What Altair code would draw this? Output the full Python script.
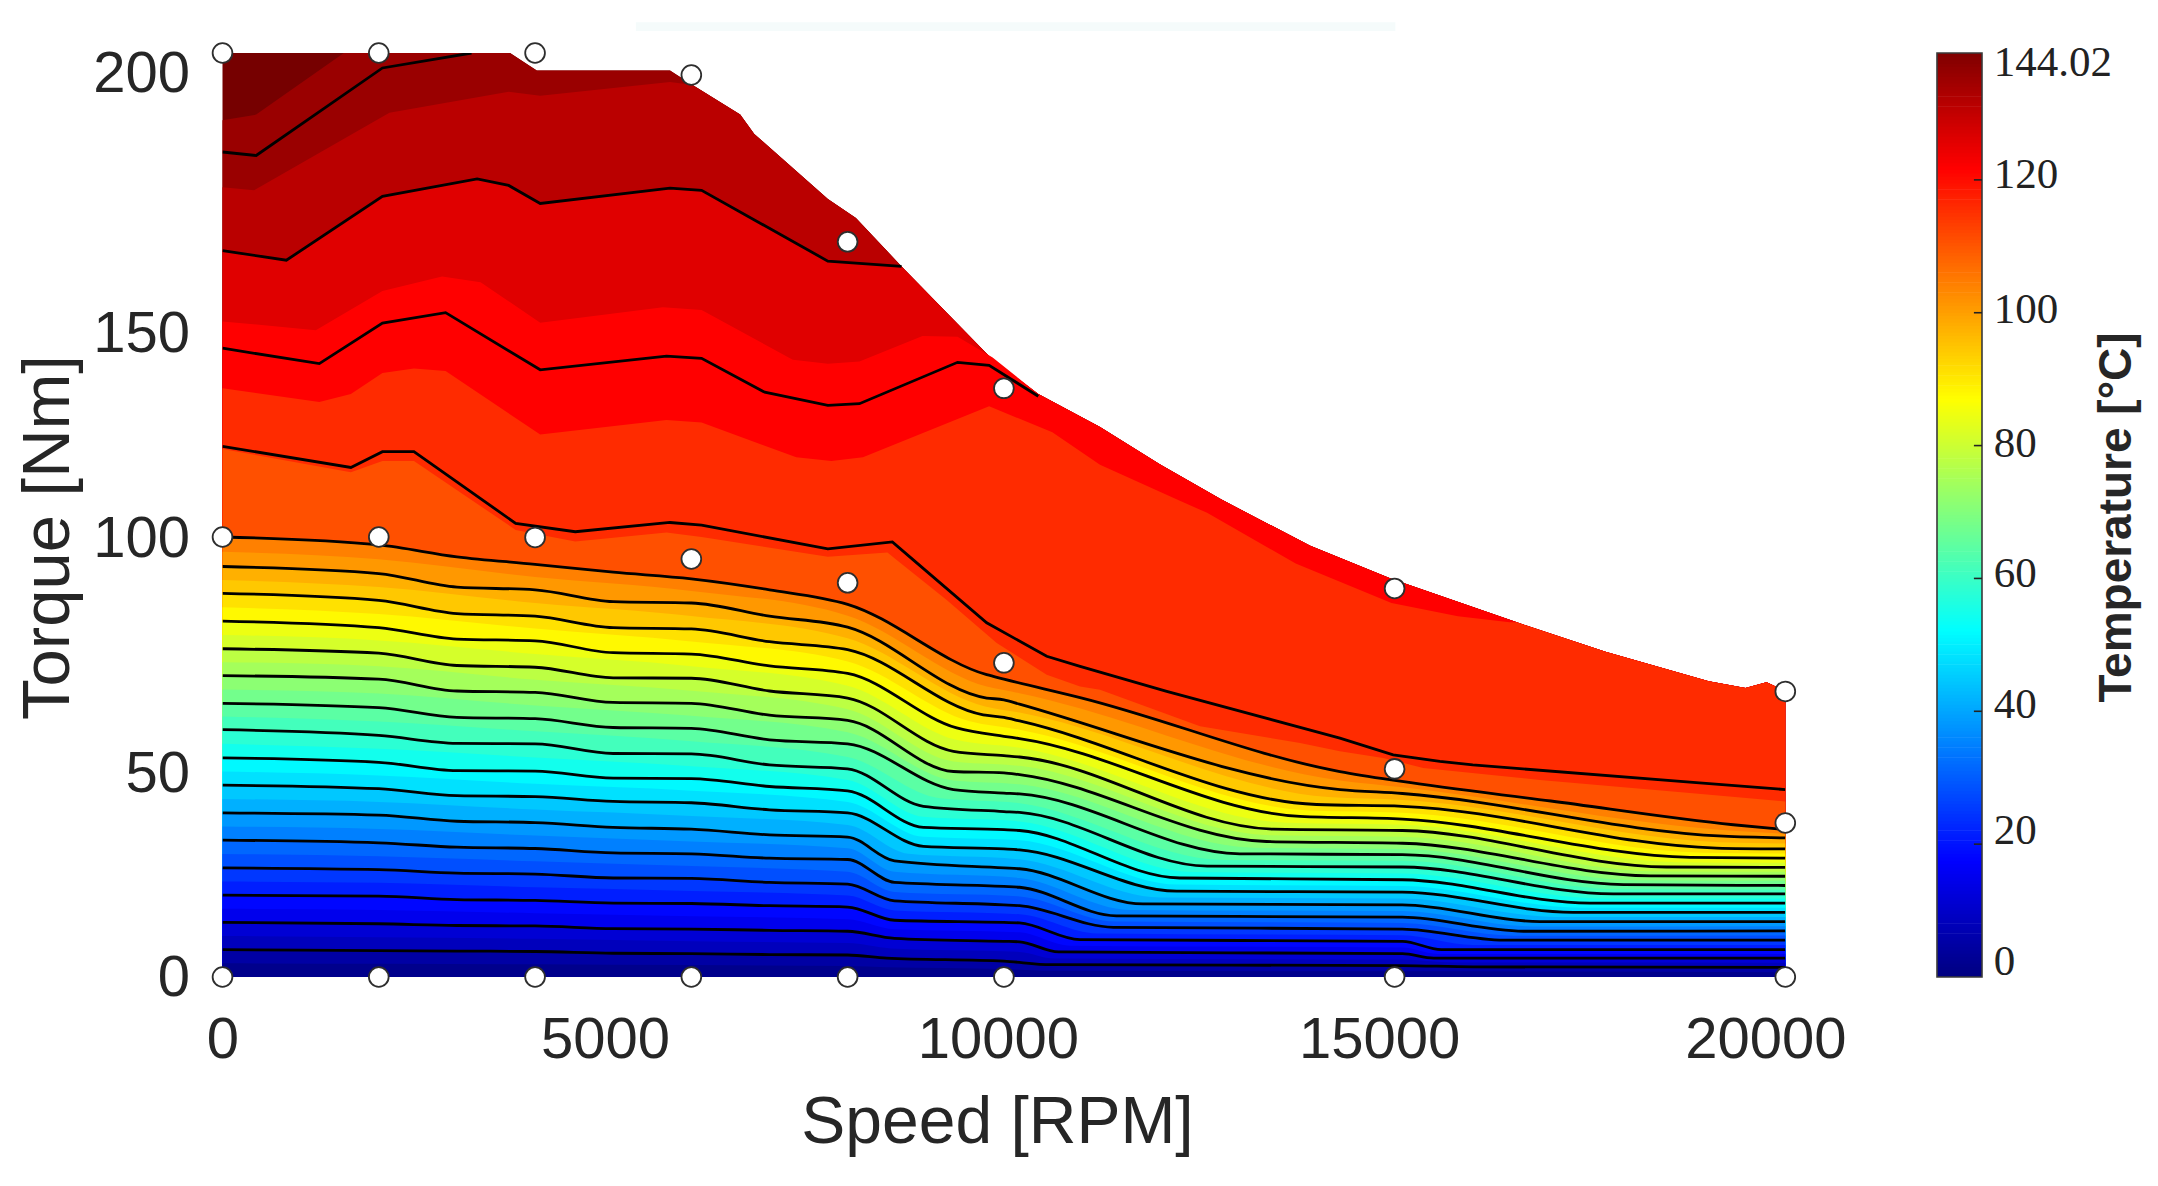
import altair as alt
import pandas as pd

# ---- outer limit of the map (Speed, Torque) ----
envelope_speed = [0, 3680, 4022, 5727, 6000, 6625, 6805, 7747, 8106, 8690, 9856, 10440, 11230, 12000, 12784, 13920, 14957, 16564, 17698, 19020, 19490, 19760, 20000]
envelope_torque = [210, 210, 206, 206, 202.9, 196, 191.6, 176.8, 172.5, 161.5, 140.3, 132.5, 125, 116.5, 108.5, 98, 90.5, 80.6, 73.9, 67.2, 65.7, 67, 65]

LEFT = [0, 2000, 3000, 4000, 5000, 6000, 7000, 8000]
MID = [0, 2000, 4000, 6000, 8000]

# ---- black contour lines ----
line_01_speed = LEFT + [8500, 10000, 10600, 15100, 16000, 20000]
line_01_torque = [6.2, 6.0, 5.9, 5.8, 5.4, 5.3, 5.1, 5.0, 4.3, 3.6, 2.8, 2.6, 2.3, 2.2]
line_02_speed = LEFT + [8600, 10000, 10200, 10700, 15100, 15500, 20000]
line_02_torque = [12.4, 12.1, 11.7, 11.6, 11, 10.9, 10.6, 10.4, 8.8, 8.1, 8, 5.7, 5.3, 4.3, 4.3]
line_03_speed = LEFT + [8600, 10000, 10200, 10974, 15100, 15600, 20000]
line_03_torque = [18.6, 18.4, 17.6, 17.4, 16.8, 16.7, 16.2, 15.9, 12.9, 12.4, 12.3, 8.5, 8.1, 6.2, 6.2]
line_04_speed = LEFT + [8600, 10000, 10200, 11400, 15100, 16400, 20000]
line_04_torque = [24.8, 24.4, 23.6, 23.4, 22.5, 22.4, 21.5, 21.1, 17.3, 16.4, 16.2, 11.3, 10.9, 8.4, 8.4]
line_05_speed = LEFT + [8600, 10000, 10200, 11440, 15100, 16650, 20000]
line_05_torque = [31.1, 30.5, 29.5, 29.2, 28.2, 28, 27, 26.7, 21.5, 20.6, 20.4, 13.9, 13.6, 10.4, 10.5]
line_06_speed = LEFT + [8600, 10000, 10200, 11780, 15100, 16860, 20000]
line_06_torque = [37.3, 36.8, 35.4, 35.1, 34, 33.6, 32.3, 31.8, 26.4, 24.8, 24.6, 16.6, 16.4, 12.6, 12.6]
line_07_speed = LEFT + [8970, 10000, 10200, 12210, 15100, 17285, 20000]
line_07_torque = [43.6, 42.8, 41.2, 41, 39.9, 39.6, 38, 37.3, 29.7, 29.1, 28.9, 19.5, 19.3, 14.7, 14.7]
line_08_speed = LEFT + [8970, 10000, 10200, 12250, 15100, 17500, 20000]
line_08_torque = [49.8, 48.8, 46.9, 46.8, 45.2, 45.1, 43.3, 42.3, 34, 33.5, 33.3, 22.5, 22.1, 16.8, 16.8]
line_09_speed = LEFT + [8970, 10000, 10200, 12600, 15100, 17800, 20000]
line_09_torque = [56.2, 54.9, 53.1, 53, 50.8, 50.7, 48.2, 47.3, 38.8, 37.6, 37.4, 25.2, 25, 18.9, 18.9]
line_10_speed = LEFT + [9354, 10000, 10200, 13020, 15100, 17930, 20000]
line_10_torque = [62.2, 61.2, 59, 58.7, 56.7, 56.5, 53.9, 53, 42.6, 41.8, 41.6, 28, 27.8, 21, 20.8]
line_11_speed = LEFT + [9354, 10000, 10200, 13360, 15100, 18270, 20000]
line_11_torque = [68.5, 67.7, 65, 64.7, 62.4, 62.2, 59.5, 58.3, 46.7, 46.4, 46, 30.8, 30.4, 23, 22.9]
line_12_speed = LEFT + [9354, 10000, 10200, 13450, 15100, 18480, 20000]
line_12_torque = [74.6, 73.6, 70.8, 70.4, 68, 67.9, 65, 63.4, 51.3, 50.3, 50, 33.6, 33.3, 25, 24.9]
line_13_speed = LEFT + [9396, 10000, 10200, 13790, 15100, 18780, 20000]
line_13_torque = [80.9, 79.4, 76.8, 76.4, 73.7, 73.4, 70.7, 69, 56.6, 54.7, 54.2, 36.5, 35.9, 27.2, 27]
line_14_speed = LEFT + [9735, 10000, 10200, 14000, 15100, 19120, 20000]
line_14_torque = [87.2, 85.6, 82.6, 82, 79.4, 79.1, 76.2, 74.4, 59.6, 59, 58.2, 39.2, 38.8, 29.3, 29.1]
line_15_speed = LEFT + [9780, 10000, 10200, 14300, 15100, 19206, 20000]
line_15_torque = [93.3, 91.7, 88.6, 88, 85.3, 85, 82, 79.5, 63.4, 63, 62, 42.6, 41.7, 32, 31.6]
line_16_speed = LEFT + [9780, 10000, 11000, 14300, 15070, 17000, 19334, 20000]
line_16_torque = [100, 98.2, 95.5, 93.8, 92, 90.5, 88, 84.7, 68.7, 67.7, 63.4, 46.7, 44.5, 40, 34.6, 33.5]
line_17_speed = [0, 1643, 2047, 2450, 3752, 4515, 5727, 6131, 7747, 8573, 8840, 9780, 10548, 10975, 12084, 14300, 14982, 15580, 16000, 18779, 20000]
line_17_torque = [120.6, 115.8, 119.4, 119.4, 103.1, 101.2, 103.3, 102.7, 97.3, 98.9, 94.8, 80.5, 72.9, 70.6, 64.9, 54.3, 50.5, 49, 48.2, 44.3, 42.6]
line_18_speed = [0, 1239, 2047, 2855, 4066, 5682, 6131, 6939, 7747, 8151, 9407, 9811, 10440]
line_18_torque = [142.9, 139.4, 148.6, 151, 138, 141.1, 140.6, 132.9, 129.9, 130.3, 139.7, 139, 132]
line_19_speed = [0, 817, 2047, 3259, 3662, 4066, 5727, 6131, 7747, 8690]
line_19_torque = [165.1, 162.9, 177.4, 181.4, 179.9, 175.8, 179.3, 178.8, 162.7, 161.5]
line_20_speed = [0, 431, 2047, 3187]
line_20_torque = [187.5, 186.7, 206.6, 210]

# ---- boundaries of the colour bands that lie between the black lines ----
band_01_speed = MID + [8500, 10000, 10600, 15100, 20000]
band_01_torque = [3.1, 3, 2.9, 2.7, 2.5, 2.2, 1.8, 1.4, 1.3, 1.1]
band_02_speed = MID + [8550, 10200, 10650, 15100, 15750, 20000]
band_02_torque = [9.3, 9.05, 8.7, 8.1, 7.7, 6.5, 5.7, 4.2, 3.95, 3.3, 3.25]
band_03_speed = MID + [8600, 10200, 10840, 15100, 15550, 20000]
band_03_torque = [15.5, 15.25, 14.5, 13.8, 13.15, 10.85, 10.15, 7.1, 6.7, 5.25, 5.25]
band_04_speed = MID + [8600, 10200, 11190, 15100, 16000, 20000]
band_04_torque = [21.7, 21.4, 20.4, 19.55, 18.5, 15.1, 14.25, 9.9, 9.5, 7.3, 7.3]
band_05_speed = MID + [8600, 10200, 11420, 15100, 16520, 20000]
band_05_torque = [27.95, 27.45, 26.3, 25.2, 23.9, 19.3, 18.3, 12.6, 12.25, 9.4, 9.45]
band_06_speed = MID + [8600, 10200, 11610, 15100, 16750, 20000]
band_06_torque = [34.2, 33.65, 32.15, 30.8, 29.25, 23.9, 22.5, 15.25, 15, 11.5, 11.55]
band_07_speed = MID + [8780, 10200, 12000, 15100, 17070, 20000]
band_07_torque = [40.45, 39.8, 38.05, 36.6, 34.55, 28, 26.75, 18.05, 17.85, 13.65, 13.65]
band_08_speed = MID + [8970, 10200, 12230, 15100, 17390, 20000]
band_08_torque = [46.7, 45.8, 43.9, 42.35, 39.8, 31.85, 31.1, 21, 20.7, 15.75, 15.75]
band_09_speed = MID + [8970, 10200, 12420, 15100, 17650, 20000]
band_09_torque = [53, 51.85, 49.9, 47.9, 44.8, 36.4, 35.35, 23.85, 23.55, 17.85, 17.85]
band_10_speed = MID + [9160, 10200, 12810, 15100, 17860, 20000]
band_10_torque = [59.2, 58.05, 55.85, 53.6, 50, 40.7, 39.5, 26.6, 26.4, 19.95, 19.85]
band_11_speed = MID + [9354, 10200, 13190, 15100, 18100, 20000]
band_11_torque = [65.35, 64.45, 61.7, 59.35, 55.65, 44.65, 43.8, 29.4, 29.1, 22, 21.85]
band_12_speed = MID + [9354, 10200, 13400, 15100, 18370, 20000]
band_12_torque = [71.55, 70.65, 67.55, 65.05, 60.85, 49, 48, 32.2, 31.85, 24, 23.9]
band_13_speed = MID + [9375, 10200, 13620, 15100, 18630, 20000]
band_13_torque = [77.75, 76.5, 73.4, 70.65, 66.2, 53.95, 52.1, 35.05, 34.6, 26.1, 25.95]
band_14_speed = MID + [9565, 10200, 13900, 15100, 18950, 20000]
band_14_torque = [84.05, 82.5, 79.2, 76.25, 71.7, 58.1, 56.2, 37.85, 37.35, 28.25, 28.05]
band_15_speed = MID + [9760, 10200, 14150, 15100, 19160, 20000]
band_15_torque = [90.25, 88.65, 85, 82.05, 77, 61.5, 60.1, 40.9, 40.25, 30.65, 30.35]
band_16_speed = MID + [9780, 10200, 14300, 15100, 19270, 20000]
band_16_torque = [96.65, 94.95, 90.9, 87.75, 82.1, 66, 64.5, 44.65, 43.1, 33.3, 32.55]
band_17_speed = [0, 1643, 2047, 2450, 3752, 4515, 5682, 6131, 7747, 8510, 8628, 9268, 9908, 10548, 10975, 11230, 12510, 13790, 14300, 14854, 15366, 16860, 18779, 20000]
band_17_torque = [120, 114.7, 117.3, 117.3, 101.6, 99, 101, 100, 95.5, 96.5, 94.8, 85.7, 75.9, 68.7, 66, 65.3, 57, 53.2, 51.3, 49.8, 47.5, 44.8, 41.8, 39.9]
band_18_speed = [0, 1239, 1643, 2047, 2450, 2855, 4066, 5682, 6131, 7343, 7792, 8196, 9811, 10620, 11230, 12216, 12600, 13734, 14960, 15810, 16470]
band_18_torque = [133.8, 130.7, 132.5, 137.3, 138.3, 137.7, 123.3, 126.6, 126, 118.1, 117.3, 118.1, 129.7, 123.8, 116.4, 108.5, 105.5, 94, 85, 82, 80.6]
band_19_speed = [0, 1194, 2047, 2810, 3303, 4066, 5637, 6131, 7298, 7747, 8151, 8959, 9407, 9856]
band_19_torque = [149, 147, 155.9, 159.2, 157.9, 148.7, 152.2, 151.6, 140.3, 139.4, 139.9, 145.7, 145.5, 140.8]
band_20_speed = [0, 404, 2136, 3662, 4066, 5727, 5996]
band_20_torque = [179.5, 178.8, 196.4, 201.2, 200.3, 203.4, 202.8]
band_21_speed = [0, 431, 1553]
band_21_torque = [194.7, 196, 210]

# ---- measured operating points ----
point_speed = [0, 2000, 4000, 6000, 8000, 10000, 15000, 20000,
               0, 2000, 4000, 6000, 8000, 10000, 15000, 20000,
               0, 2000, 4000, 6000, 8000, 10000, 15000, 20000]
point_torque = [0, 0, 0, 0, 0, 0, 0, 0,
                100, 100, 99.9, 95, 89.6, 71.4, 47.3, 35,
                210, 210, 210, 205, 167.1, 133.8, 88.3, 64.9]

# ---- tick labels, placed where the picture has them ----
x_tick_pos = [0, 4895, 9924, 14802, 19745]
x_tick_text = ["0", "5000", "10000", "15000", "20000"]
y_tick_pos = [0.5, 47, 100.3, 147, 206]
y_tick_text = ["0", "50", "100", "150", "200"]
bar_label_pos = [2.3, 22.0, 41.0, 60.7, 80.3, 100.5, 120.8, 137.6]
bar_label_text = ["0", "20", "40", "60", "80", "100", "120", "144.02"]
bar_tick_pos = [20, 40, 60, 80, 100, 120]
BAR_TOP = 139.1

# pale strip above the map
strip_speed = [5290, 15010]
strip_torque = [215, 217]

# ---- colours of the hottest bands ----
hot_colors = {"env": "#760000", "b21": "#9a0000", "b20": "#ba0000", "l19": "#e00000",
              "b19": "#ff0000", "b18": "#ff2b00", "b17": "#ff5000"}


def jet(t):
    def ramp(v):
        return max(0.0, min(1.0, v))
    r = ramp(min(4 * t - 1.5, -4 * t + 4.5))
    g = ramp(min(4 * t - 0.5, -4 * t + 3.5))
    b = ramp(min(4 * t + 0.5, -4 * t + 2.5))
    return "#%02x%02x%02x" % (round(r * 255), round(g * 255), round(b * 255))


def band_color(i):
    return jet((i + 0.5) / 42)


def up_to_envelope(sp, tq):
    sp, tq = list(sp), list(tq)
    for s, t in zip(envelope_speed, envelope_torque):
        if s > sp[-1]:
            sp.append(s)
            tq.append(t)
    return sp, tq


def frame(sp, tq):
    return pd.DataFrame({"speed": sp, "torque": tq})


lines = [
    (line_01_speed, line_01_torque), (line_02_speed, line_02_torque), (line_03_speed, line_03_torque),
    (line_04_speed, line_04_torque), (line_05_speed, line_05_torque), (line_06_speed, line_06_torque),
    (line_07_speed, line_07_torque), (line_08_speed, line_08_torque), (line_09_speed, line_09_torque),
    (line_10_speed, line_10_torque), (line_11_speed, line_11_torque), (line_12_speed, line_12_torque),
    (line_13_speed, line_13_torque), (line_14_speed, line_14_torque), (line_15_speed, line_15_torque),
    (line_16_speed, line_16_torque), (line_17_speed, line_17_torque), (line_18_speed, line_18_torque),
    (line_19_speed, line_19_torque), (line_20_speed, line_20_torque),
]
bands = [
    (band_01_speed, band_01_torque), (band_02_speed, band_02_torque), (band_03_speed, band_03_torque),
    (band_04_speed, band_04_torque), (band_05_speed, band_05_torque), (band_06_speed, band_06_torque),
    (band_07_speed, band_07_torque), (band_08_speed, band_08_torque), (band_09_speed, band_09_torque),
    (band_10_speed, band_10_torque), (band_11_speed, band_11_torque), (band_12_speed, band_12_torque),
    (band_13_speed, band_13_torque), (band_14_speed, band_14_torque), (band_15_speed, band_15_torque),
    (band_16_speed, band_16_torque), (band_17_speed, band_17_torque), (band_18_speed, band_18_torque),
    (band_19_speed, band_19_torque), (band_20_speed, band_20_torque), (band_21_speed, band_21_torque),
]

# painter's order: hottest region first, each colder one on top
fills = [
    ((envelope_speed, envelope_torque), hot_colors["env"], "linear"),
    (up_to_envelope(*bands[20]), hot_colors["b21"], "linear"),
    (up_to_envelope(*bands[19]), hot_colors["b20"], "linear"),
    (up_to_envelope(*lines[18]), hot_colors["l19"], "linear"),
    (up_to_envelope(*bands[18]), hot_colors["b19"], "linear"),
    (up_to_envelope(*bands[17]), hot_colors["b18"], "linear"),
    (bands[16], hot_colors["b17"], "linear"),
]
for n in range(16, 0, -1):
    fills.append((lines[n - 1], band_color(2 * n - 1), "monotone"))
    fills.append((bands[n - 1], band_color(2 * n - 2), "monotone"))


def label_expr(values, texts):
    expr = "''"
    for v, t in zip(values, texts):
        expr = f"datum.value=={v}?'{t}':" + expr
    return expr


AXIS_COLOR = "#262626"
SANS = "Liberation Sans"
x_enc = alt.X(
    "speed:Q",
    scale=alt.Scale(domain=[0, 20000], nice=False, zero=False),
    axis=alt.Axis(
        title="Speed [RPM]", values=x_tick_pos, labelExpr=label_expr(x_tick_pos, x_tick_text),
        grid=False, domain=False, ticks=False, labelFont=SANS, labelFontSize=58, labelColor=AXIS_COLOR,
        labelPadding=35, labelOverlap=False, labelFlush=False, titleFont=SANS, titleFontSize=66,
        titleFontWeight="normal", titleColor=AXIS_COLOR, titleX=774.5, titleY=166, titleBaseline="alphabetic",
    ),
)
y_enc = alt.Y(
    "torque:Q",
    scale=alt.Scale(domain=[0, 210], nice=False),
    axis=alt.Axis(
        title="Torque [Nm]", values=y_tick_pos, labelExpr=label_expr(y_tick_pos, y_tick_text),
        grid=False, domain=False, ticks=False, labelFont=SANS, labelFontSize=58, labelColor=AXIS_COLOR,
        labelPadding=33, labelOffset=4, labelOverlap=False, labelFlush=False, titleFont=SANS, titleFontSize=67,
        titleFontWeight="normal", titleColor=AXIS_COLOR, titleX=-154, titleY=484, titleBaseline="alphabetic",
    ),
)

map_layers = [
    alt.Chart(pd.DataFrame({"speed": [strip_speed[0]], "speed2": [strip_speed[1]],
                            "torque": [strip_torque[0]], "torque2": [strip_torque[1]]}))
    .mark_rect(color="#f5fbfb", clip=False)
    .encode(x=x_enc, x2="speed2:Q", y=y_enc, y2="torque2:Q")
]
for (sp, tq), col, how in fills:
    map_layers.append(alt.Chart(frame(sp, tq)).mark_area(color=col, opacity=1, interpolate=how).encode(x=x_enc, y=y_enc))
for i, (sp, tq) in enumerate(lines):
    how = "monotone" if i < 16 else "linear"
    map_layers.append(alt.Chart(frame(sp, tq)).mark_line(color="#000000", strokeWidth=2.8, clip=True, interpolate=how).encode(x=x_enc, y=y_enc))
map_layers.append(
    alt.Chart(frame(point_speed, point_torque))
    .mark_point(filled=True, fill="#ffffff", stroke="#2e2e2e", strokeWidth=1.8, size=390, opacity=1)
    .encode(x=x_enc, y=y_enc)
)
map_chart = alt.layer(*map_layers)

# ---- colour bar ----
bar_steps = [i * 0.5 for i in range(int(BAR_TOP * 2))]
bar_df = pd.DataFrame({
    "left": [0.0] * len(bar_steps), "right": [1.0] * len(bar_steps),
    "t0": bar_steps, "t1": [min(s + 0.6, BAR_TOP) for s in bar_steps],
    "col": [jet((s + 0.25) / BAR_TOP) for s in bar_steps],
})
bar_x = alt.X("left:Q", scale=alt.Scale(domain=[0, 1], range=[1714.5, 1759.5]), axis=None)
bar_y = alt.Y(
    "t0:Q",
    scale=alt.Scale(domain=[0, BAR_TOP], nice=False),
    axis=alt.Axis(
        orient="right", offset=205, title="Temperature [°C]", values=bar_label_pos,
        labelExpr=label_expr(bar_label_pos, bar_label_text), grid=False, domain=False, ticks=False,
        labelFont="Liberation Serif", labelFontSize=43, labelColor="#222222", labelPadding=3,
        labelOverlap=False, labelFlush=False, titleFont=SANS, titleFontSize=46, titleFontWeight="bold",
        titleColor=AXIS_COLOR, titleAngle=270, titleX=140, titleY=464, titleBaseline="alphabetic",
    ),
)
bar_rects = alt.Chart(bar_df).mark_rect(strokeWidth=0).encode(
    x=bar_x, x2="right:Q", y=bar_y, y2="t1:Q", color=alt.Color("col:N", scale=None)
)
bar_frame = alt.Chart(pd.DataFrame({"left": [0.0], "right": [1.0], "t0": [0.0], "t1": [BAR_TOP]})).mark_rect(
    fillOpacity=0, stroke="#3a3a3a", strokeWidth=1.6
).encode(x=bar_x, x2="right:Q", y=bar_y, y2="t1:Q")
bar_ticks = alt.Chart(pd.DataFrame({"left": [0.82] * len(bar_tick_pos), "right": [1.0] * len(bar_tick_pos), "t0": bar_tick_pos})).mark_rule(
    color="#222222", strokeWidth=1.6
).encode(x=bar_x, x2="right:Q", y=bar_y)
bar_chart = alt.layer(bar_rects, bar_frame, bar_ticks)

chart = (
    alt.layer(map_chart, bar_chart)
    .resolve_scale(x="independent", y="independent", color="independent")
    .properties(
        width=1562.8,
        height=924,
        background="#ffffff",
        autosize=alt.AutoSizeParams(type="none"),
        padding={"left": 214.5, "top": 45, "right": 360, "bottom": 190},
    )
    .configure_view(stroke=None)
)
chart.save("out.html", embed_options={"renderer": "svg", "actions": False})
